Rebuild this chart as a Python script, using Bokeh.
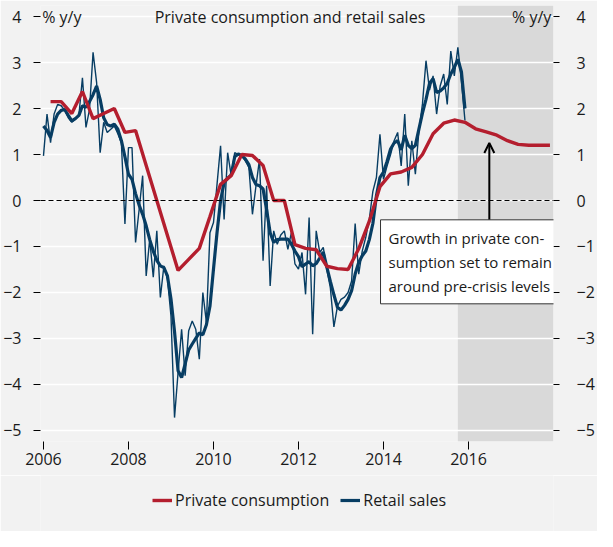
import pandas as pd
from bokeh.plotting import figure
from bokeh.layouts import column
from bokeh.models import (LinearAxis, FixedTicker, Span, BoxAnnotation, Label,
                          Arrow, OpenHead, Legend, LegendItem, ColumnDataSource)
from bokeh.embed import file_html
from bokeh.resources import INLINE

# ---------------- data ----------------
quarters = [f"{y}Q{q}" for y in range(2006, 2018) for q in range(1, 5)]
private_consumption = [
    2.15, 2.15, 1.89, 2.37,
    1.78, 1.89, 2.00, 1.48,
    1.52, 0.76, 0.00, -0.76,
    -1.52, -1.28, -1.04, -0.35,
    0.35, 0.54, 1.00, 0.98,
    0.76, 0.00, 0.00, -0.96,
    -1.04, -1.07, -1.43, -1.48,
    -1.50, -1.05, -0.45, 0.30,
    0.58, 0.62, 0.72, 1.00,
    1.45, 1.68, 1.75, 1.70,
    1.56, 1.49, 1.42, 1.30,
    1.22, 1.20, 1.20, 1.20,
]

months = [str(p) for p in pd.period_range("2006-01", "2015-12", freq="M")]
retail_sales = [
    0.97, 1.88, 1.26, 1.88, 2.09, 2.06, 1.96, 1.80, 1.70, 1.77, 1.85, 2.67,
    1.59, 1.98, 3.22, 2.57, 1.04, 1.70, 1.48, 1.55, 1.62, 1.45, 1.25, -0.51,
    1.15, 1.15, -0.91, -0.20, 0.54, -1.64, -0.84, -1.67, -0.66, -2.11, -1.42, -1.70,
    -2.51, -4.72, -3.74, -2.80, -3.81, -2.83, -2.62, -2.80, -3.45, -2.00, -2.65, -0.70,
    -0.48, 0.35, 1.19, -0.41, 1.04, 0.54, 1.04, 1.00, 0.97, 0.86, 0.72, -0.30,
    0.32, 0.90, -1.31, 0.32, -1.86, -0.66, -0.95, -0.75, -0.66, -1.06, -0.70, -1.38,
    -1.49, -1.13, -2.04, -0.37, -2.91, -0.66, -1.13, -1.02, -1.49, -1.90, -2.75, -2.30,
    -2.15, -2.10, -2.00, -1.75, -0.50, -1.60, -1.10, -0.80, -0.40, 0.20, 0.50, 1.44,
    0.46, 0.75, 1.00, 1.30, 1.48, 0.75, 1.88, 0.32, 1.30, 0.57, 1.51, 2.10,
    3.04, 2.40, 2.71, 1.88, 2.49, 2.75, 2.09, 3.25, 2.71, 3.33, 2.60, 1.74,
]
retail_sales_3m = [
    1.62, 1.52, 1.37, 1.70, 1.88, 1.96, 1.98, 1.85, 1.73, 1.78, 1.85, 2.06,
    2.03, 2.15, 2.30, 2.49, 2.20, 1.80, 1.65, 1.62, 1.66, 1.55, 1.30, 0.95,
    0.57, 0.46, 0.15, -0.10, -0.30, -0.55, -0.85, -1.10, -1.30, -1.42, -1.46, -1.64,
    -2.14, -2.85, -3.70, -3.85, -3.55, -3.25, -3.12, -3.00, -2.88, -2.92, -2.70, -2.30,
    -1.49, -0.70, 0.00, 0.39, 0.48, 0.56, 0.95, 1.01, 0.98, 0.90, 0.78, 0.50,
    0.35, 0.32, 0.25, -0.20, -0.70, -0.91, -0.85, -0.84, -0.84, -0.84, -0.95, -1.10,
    -1.22, -1.44, -1.38, -1.33, -1.42, -1.37, -1.25, -1.12, -1.45, -1.76, -2.05, -2.32,
    -2.38, -2.28, -2.15, -1.96, -1.60, -1.35, -1.20, -1.10, -0.85, -0.50, 0.10, 0.50,
    0.62, 0.85, 1.12, 1.25, 1.30, 1.10, 1.42, 1.20, 1.13, 1.20, 1.55, 1.90,
    2.20, 2.55, 2.65, 2.35, 2.38, 2.45, 2.55, 2.75, 2.90, 3.07, 2.80, 2.00,
]

y_ticks = [-5, -4, -3, -2, -1, 0, 1, 2, 3, 4]
x_ticks = [2006, 2008, 2010, 2012, 2014, 2016]
forecast_start, forecast_end = 2015.75, 2018.0

title_text = "Private consumption and retail sales"
unit_text = "% y/y"
note_text = "Growth in private con-\nsumption set to remain\naround pre-crisis levels"
note_xy = (2013.93, -0.42)
arrow_x, arrow_y = 2016.49, (-0.45, 1.25)
legend_labels = ["Private consumption", "Retail sales"]

# ---------------- helpers ----------------
def month_to_year(m):
    p = pd.Period(m, freq="M")
    return p.year + (p.month - 1) / 12.0

def quarter_to_year(q):
    p = pd.Period(q, freq="Q").asfreq("M", "end")
    return p.year + (p.month - 1) / 12.0

RED = "#b41e2e"
BLUE = "#073d63"
BG = "#f2f2f2"
TXT = "#1a1a1a"
FONT = "Open Sans"

src_pc = ColumnDataSource(dict(x=[quarter_to_year(q) for q in quarters], y=private_consumption))
src_rs = ColumnDataSource(dict(x=[month_to_year(m) for m in months], y=retail_sales, y3=retail_sales_3m))

p = figure(width=597, height=475, output_backend="svg", toolbar_location=None,
           x_range=(2005.93, 2018.0), y_range=(-5.24, 4.24),
           min_border_left=36, min_border_right=42, min_border_top=5, min_border_bottom=34,
           background_fill_color=BG, border_fill_color=BG, outline_line_color=None)

# forecast shading
p.add_layout(BoxAnnotation(left=forecast_start, right=forecast_end, fill_color="#d9d9d9",
                           fill_alpha=1.0, line_color=None, level="image"))

p.xgrid.visible = False
p.ygrid.ticker = FixedTicker(ticks=y_ticks)
p.ygrid.grid_line_color = "white"
p.ygrid.grid_line_width = 1.5

p.add_layout(Span(location=0, dimension="width", line_color="black", line_width=1,
                  line_dash="5 3"))

thin = p.line("x", "y", source=src_rs, line_color=BLUE, line_width=1.4)
thick = p.line("x", "y3", source=src_rs, line_color=BLUE, line_width=3.2)
red = p.line("x", "y", source=src_pc, line_color=RED, line_width=3.4)

# axes
def style_axis(ax, ticks):
    ax.ticker = FixedTicker(ticks=ticks)
    ax.axis_line_color = None
    ax.minor_tick_line_color = None
    ax.major_tick_line_color = "black"
    ax.major_tick_line_width = 1
    ax.major_label_text_font = FONT
    ax.major_label_text_font_size = "16px"
    ax.major_label_text_color = TXT

yl = p.yaxis[0]
style_axis(yl, y_ticks)
yl.major_tick_in = 0
yl.major_tick_out = 11
yl.major_tick_line_dash = "0 4 7 30"
yl.major_label_standoff = 8

yr = LinearAxis()
style_axis(yr, y_ticks)
yr.major_tick_in = 0
yr.major_tick_out = 11
yr.major_tick_line_dash = "0 5 6 30"
yr.major_label_standoff = 12
p.add_layout(yr, "right")

xa = p.xaxis[0]
style_axis(xa, x_ticks)
xa.major_tick_in = 0
xa.major_tick_out = 8
xa.major_label_standoff = 3

# texts in plot
p.add_layout(Label(x=2011.8, y=4.0, text=title_text, text_align="center", text_baseline="middle",
                   text_font=FONT, text_font_size="16px", text_color=TXT))
p.add_layout(Label(x=2005.97, y=4.0, text=unit_text, text_align="left", text_baseline="middle",
                   text_font=FONT, text_font_size="16px", text_color=TXT))
p.add_layout(Label(x=2017.95, y=4.0, text=unit_text, text_align="right", text_baseline="middle",
                   text_font=FONT, text_font_size="16px", text_color=TXT))

p.add_layout(Arrow(x_start=arrow_x, y_start=arrow_y[0], x_end=arrow_x, y_end=arrow_y[1],
                   line_width=2, line_color="black",
                   end=OpenHead(size=10, line_width=2, line_color="black")))
p.add_layout(Label(x=note_xy[0], y=note_xy[1], text=note_text, text_align="left",
                   text_baseline="top", text_font=FONT, text_font_size="15px",
                   text_color=TXT, text_line_height=1.2,
                   background_fill_color="white", border_line_color="#333333",
                   border_line_width=1, padding=8))

# legend in its own strip below the chart (series drawn off-view, legend only)
lg = figure(width=597, height=56, output_backend="svg", toolbar_location=None,
            x_axis_type=None, y_axis_type=None, x_range=(0, 1), y_range=(0, 1),
            min_border=0, background_fill_color=BG, border_fill_color=BG,
            outline_line_color=None)
lg.xgrid.visible = False
lg.ygrid.visible = False
k_red = lg.line("x", "y", source=src_pc, line_color=RED, line_width=3.4)
k_blue = lg.line("x", "y3", source=src_rs, line_color=BLUE, line_width=3.2)
legend = Legend(items=[LegendItem(label=legend_labels[0], renderers=[k_red]),
                       LegendItem(label=legend_labels[1], renderers=[k_blue])],
                orientation="horizontal", location=(112, 20),
                label_text_font=FONT, label_text_font_size="16px", label_text_color=TXT,
                glyph_width=20, label_standoff=3, spacing=11, padding=0, margin=0,
                background_fill_alpha=0, border_line_color=None)
lg.add_layout(legend)

layout = column(p, lg, spacing=0)
html = file_html(layout, INLINE)
html = html.replace("<body>", '<body style="background-color:#f2f2f2;">', 1)
open("out.html", "w").write(html)
